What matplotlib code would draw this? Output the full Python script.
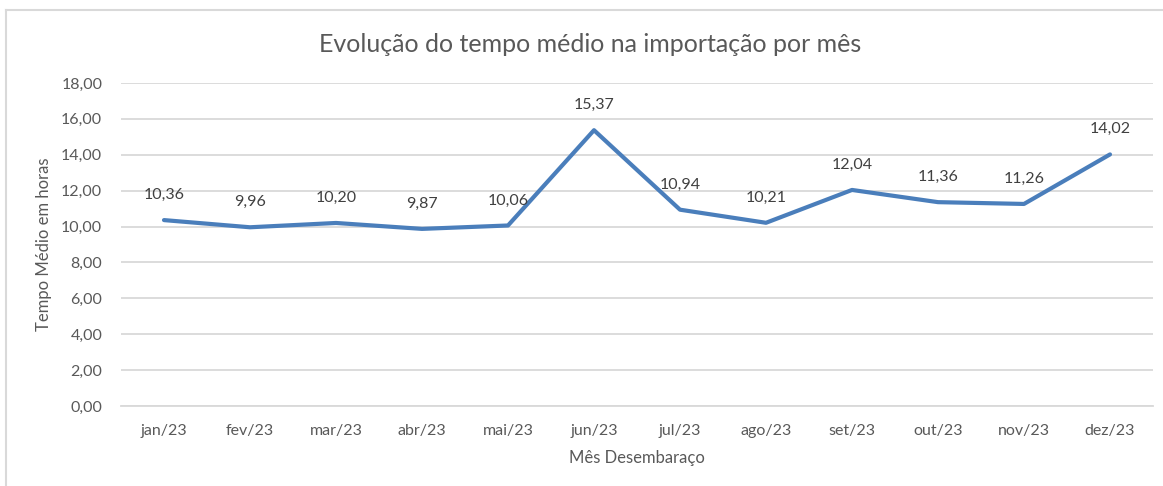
import matplotlib.pyplot as plt
from matplotlib.lines import Line2D
from matplotlib.ticker import FuncFormatter

months = ['jan/23', 'fev/23', 'mar/23', 'abr/23', 'mai/23', 'jun/23',
          'jul/23', 'ago/23', 'set/23', 'out/23', 'nov/23', 'dez/23']
hours = [10.36, 9.96, 10.20, 9.87, 10.06, 15.37,
         10.94, 10.21, 12.04, 11.36, 11.26, 14.02]
yticks = [0, 2, 4, 6, 8, 10, 12, 14, 16, 18]

plt.rcParams['font.family'] = ['Lato', 'DejaVu Sans']
grey = '#595959'

W, H = 1163, 486
fig = plt.figure(figsize=(W / 100, H / 100), dpi=100)
ax = fig.add_axes([121 / W, 1 - 406 / H, (1153 - 121) / W, (406 - 83) / H])

x = list(range(len(months)))
ax.plot(x, hours, color='#4A7EBB', lw=3.0, solid_joinstyle='round',
        solid_capstyle='round', zorder=3)

def br(v, d=2):
    return f'{v:.{d}f}'.replace('.', ',')

for xi, v in zip(x, hours):
    ax.annotate(br(v), (xi, v), xytext=(0, 13), textcoords='offset points',
                ha='center', va='bottom', fontsize=11.5, color='#404040')

ax.set_xlim(-0.5, len(months) - 0.5)
ax.set_ylim(0, 18)
ax.set_yticks(yticks)
ax.yaxis.set_major_formatter(FuncFormatter(lambda v, p: br(v)))
ax.set_xticks(x)
ax.set_xticklabels(months)
ax.grid(axis='y', color='#D9D9D9', lw=1.3)
ax.set_axisbelow(True)
for s in ['top', 'right', 'left']:
    ax.spines[s].set_visible(False)
ax.spines['bottom'].set_color('#D9D9D9')
ax.spines['bottom'].set_linewidth(1.3)
ax.tick_params(length=0, labelsize=11.5, colors=grey, pad=13)
ax.tick_params(axis='y', pad=13.5)

ax.set_ylabel('Tempo Médio em horas', fontsize=12, color=grey, va='center')
ax.yaxis.set_label_coords((44 - 121) / 1032, 0.5)
ax.set_xlabel('Mês Desembaraço', fontsize=12, color=grey, va='center')
ax.xaxis.set_label_coords(0.5, (406 - 458) / 323)

fig.text(590 / W, 1 - 45 / H, 'Evolução do tempo médio na importação por mês',
         ha='center', va='center', fontsize=18, color=grey)

# outer chart border (cropped at right and bottom)
fig.add_artist(Line2D([6 / W, 1], [1 - 10 / H, 1 - 10 / H], color='#D9D9D9', lw=1.5,
                      transform=fig.transFigure))
fig.add_artist(Line2D([6 / W, 6 / W], [0, 1 - 10 / H], color='#D9D9D9', lw=1.5,
                      transform=fig.transFigure))

fig.savefig('out.png', dpi=100)
